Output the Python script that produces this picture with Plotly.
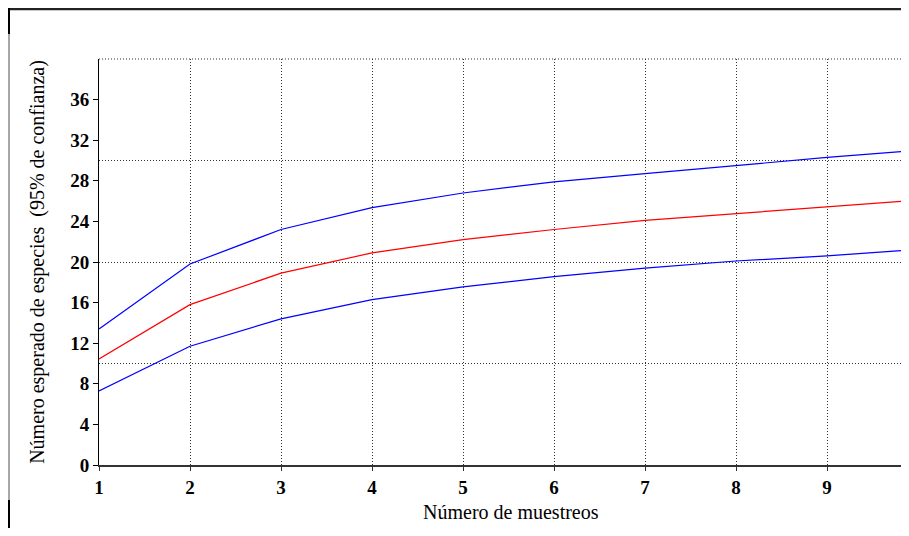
import plotly.graph_objects as go

muestreos = [1, 2, 3, 4, 5, 6, 7, 8, 9, 10]
limite_superior = [13.4, 19.8, 23.2, 25.35, 26.8, 27.9, 28.7, 29.5, 30.3, 31.0]
esperado = [10.45, 15.8, 18.9, 20.9, 22.2, 23.2, 24.1, 24.75, 25.45, 26.1]
limite_inferior = [7.3, 11.7, 14.4, 16.3, 17.55, 18.55, 19.4, 20.1, 20.6, 21.25]

y_ticks = [0, 4, 8, 12, 16, 20, 24, 28, 32, 36]
x_ticks = [1, 2, 3, 4, 5, 6, 7, 8, 9]
grid_y = [10, 20, 30]

FONT = "Liberation Serif, Times New Roman, serif"
DOT = "1px,2px"

fig = go.Figure()
fig.add_trace(go.Scatter(x=muestreos, y=limite_superior, mode="lines",
                         line=dict(color="#0000ff", width=1.2), showlegend=False))
fig.add_trace(go.Scatter(x=muestreos, y=esperado, mode="lines",
                         line=dict(color="#ff0000", width=1.2), showlegend=False))
fig.add_trace(go.Scatter(x=muestreos, y=limite_inferior, mode="lines",
                         line=dict(color="#0000ff", width=1.2), showlegend=False))
# invisible trace on grid axis
fig.add_trace(go.Scatter(x=[1], y=[0], yaxis="y2", mode="markers",
                         marker=dict(opacity=0), showlegend=False, hoverinfo="skip"))

# page body has an 8px margin; keep the figure inside the window (no scrollbars)
W, H = 893, 520
PLOT_R = 8 + W          # page x of plot right edge
X_MAX = 1 + (PLOT_R - 99) / 91.0

fig.update_layout(
    width=W, height=H,
    margin=dict(l=91, r=0, t=51, b=H - 457),
    paper_bgcolor="white", plot_bgcolor="white",
    font=dict(family=FONT, color="black"),
    xaxis=dict(range=[1, X_MAX], tickvals=x_ticks, ticktext=[str(v) for v in x_ticks],
               showgrid=True, gridcolor="#333", griddash=DOT, gridwidth=1,
               showline=True, linecolor="#333", linewidth=1.5,
               ticks="outside", ticklen=4, tickcolor="#333",
               tickfont=dict(size=19, family=FONT, weight="bold"),
               zeroline=False),
    yaxis=dict(range=[0, 40], tickvals=y_ticks, ticktext=[str(v) for v in y_ticks],
               showgrid=False, showline=True, linecolor="black", linewidth=1,
               ticks="outside", ticklen=5, tickcolor="black",
               tickfont=dict(size=19, family=FONT, weight="bold"),
               zeroline=False,
               title=dict(text="Número esperado de especies  (95% de confianza)",
                          font=dict(size=20, family=FONT), standoff=20)),
    yaxis2=dict(range=[0, 40], overlaying="y", tickvals=grid_y, showticklabels=False,
                ticks="", showgrid=True, gridcolor="#333", griddash=DOT, gridwidth=1,
                showline=False, zeroline=False),
)

# page coordinates converted to paper coordinates
pw = PLOT_R - 99
px = lambda x: (x - 99) / pw
py = lambda y: (465 - y) / 406
fig.add_annotation(text="Número de muestreos", xref="paper", yref="paper",
                   x=px(511), y=py(512), xanchor="center", yanchor="middle",
                   showarrow=False, font=dict(size=20, family=FONT))
shapes = [
    # dotted top border of plot area
    dict(type="line", xref="paper", yref="paper", x0=0, x1=1, y0=1, y1=1,
         line=dict(color="#333", width=1, dash=DOT)),
    # outer frame
    dict(type="line", xref="paper", yref="paper", x0=px(8), x1=px(PLOT_R), y0=py(9), y1=py(9),
         line=dict(color="#222", width=2.5)),
    dict(type="line", xref="paper", yref="paper", x0=px(9), x1=px(9), y0=py(8), y1=py(34),
         line=dict(color="black", width=2)),
    dict(type="line", xref="paper", yref="paper", x0=px(9), x1=px(9), y0=py(34), y1=py(500),
         line=dict(color="#888", width=1.5)),
    dict(type="line", xref="paper", yref="paper", x0=px(9), x1=px(9), y0=py(500), y1=py(528),
         line=dict(color="black", width=2)),
]
fig.update_layout(shapes=shapes)

fig.write_html("out.html")
